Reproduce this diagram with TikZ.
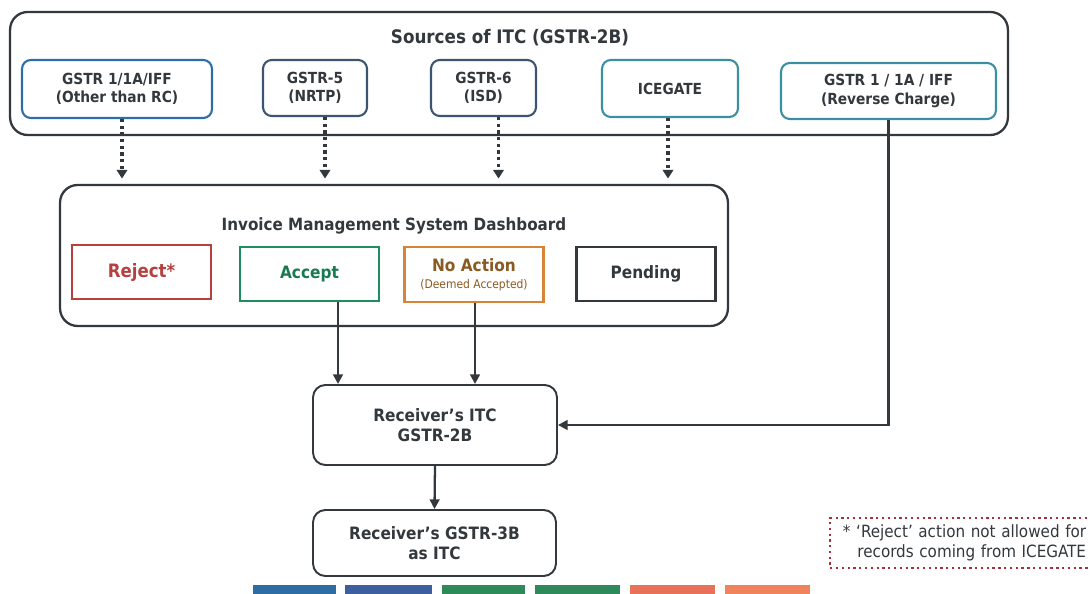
\documentclass[tikz,border=0pt]{standalone}
\usepackage{fontspec}
\setmainfont{DejaVu Sans Condensed}
\usetikzlibrary{arrows.meta,calc}
\definecolor{ink}{HTML}{33383D}
\definecolor{srcblue}{HTML}{2B6FA8}
\definecolor{srcslate}{HTML}{3B5570}
\definecolor{srcteal}{HTML}{3A90A0}
\definecolor{rejred}{HTML}{B5403F}
\definecolor{accgreen}{HTML}{1E8E5E}
\definecolor{noorange}{HTML}{D98338}
\definecolor{nobrown}{HTML}{8A5A22}
\definecolor{notered}{HTML}{A8303A}
\tikzset{
  frame/.style={draw=ink,line width=1.3pt,rounded corners=10pt},
  srcbox/.style={draw=#1,line width=1.2pt,rounded corners=5pt,align=center,
    text=ink,font=\fontsize{8.7}{10.3}\selectfont\bfseries,inner sep=0pt},
  actbox/.style={draw=#1,line width=1.3pt,align=center,inner sep=0pt,
    minimum width=2.78cm,minimum height=1.08cm,font=\fontsize{9.7}{10.5}\selectfont\bfseries},
  itcbox/.style={draw=ink,line width=1.1pt,rounded corners=7pt,align=center,
    text=ink,font=\fontsize{9.7}{11.5}\selectfont\bfseries,inner sep=0pt},
  feed/.style={draw=ink,line width=1.8pt,dotted,-{Triangle[width=6pt,length=5pt]},shorten >=3pt},
  flow/.style={draw=ink,line width=1.3pt,-{Triangle[width=5.5pt,length=5.5pt]}},
}
\begin{document}
\begin{tikzpicture}[x=0.02cm,y=-0.02cm]
\useasboundingbox (0,0) rectangle (1090,594);

% sources
\node[frame,minimum width=19.96cm,minimum height=2.46cm] (srcs) at (509,73.5) {};
\node[text=ink,font=\fontsize{10.6}{12}\selectfont\bfseries] (srcTitle) at (510,38) {Sources of ITC (GSTR-2B)};
\node[srcbox=srcblue,minimum width=3.8cm,minimum height=1.16cm] (gA) at (117,89) {GSTR 1/1A/IFF\\(Other than RC)};
\node[srcbox=srcslate,minimum width=2.08cm,minimum height=1.12cm] (gB) at (315,88) {GSTR-5\\(NRTP)};
\node[srcbox=srcslate,minimum width=2.1cm,minimum height=1.12cm] (gC) at (483.5,88) {GSTR-6\\(ISD)};
\node[srcbox=srcteal,minimum width=2.72cm,minimum height=1.14cm] (gD) at (670,88.5) {ICEGATE};
\node[srcbox=srcteal,minimum width=4.3cm,minimum height=1.12cm] (gE) at (888.5,91) {GSTR 1 / 1A / IFF\\(Reverse Charge)};

% dashboard
\node[frame,minimum width=13.36cm,minimum height=2.82cm] (ims) at (394,255.5) {};
\node[text=ink,font=\fontsize{9.6}{11}\selectfont\bfseries] (imsTitle) at (394,226) {Invoice Management System Dashboard};
\node[actbox=rejred,text=rejred,font=\fontsize{10.5}{11}\selectfont\bfseries] (rej) at (141.5,272) {Reject*};
\node[actbox=accgreen,text=accgreen!85!black] (acc) at (309.5,274) {Accept};
\node[actbox=noorange,text=nobrown,minimum height=1.1cm] (noact) at (474,274.5)
  {No Action\\[-1pt]{\fontsize{6.8}{7.5}\selectfont\mdseries(Deemed Accepted)}};
\node[actbox=ink,text=ink] (pend) at (646,274) {Pending};

% receiver side
\node[itcbox,minimum width=4.88cm,minimum height=1.6cm] (itc) at (435,425) {Receiver's ITC\\GSTR-2B};
\node[itcbox,minimum width=4.86cm,minimum height=1.32cm] (g3b) at (434.5,543) {Receiver's GSTR-3B\\as ITC};
\node[draw=notered,line width=1.3pt,dotted,minimum height=1cm,
  text width=4.98cm,inner xsep=0.14cm,inner ysep=0pt,align=right,text=ink,
  font=\fontsize{9.6}{11}\selectfont,anchor=west] (note) at (829,543)
  {* `Reject' action not allowed for\\records coming from ICEGATE};

% connectors
\foreach \s/\dx in {gA/5,gB/10,gC/15,gD/-2}{
  \coordinate (\s-out) at ($(\s.south)+(\dx,0)$);
  \draw[feed] (\s-out) -- (\s-out |- ims.north);
}
\coordinate (acc-out) at ($(acc.south)+(28.5,0)$);
\coordinate (noact-out) at ($(noact.south)+(1,0)$);
\draw[flow] (acc-out) -- (acc-out |- itc.north);
\draw[flow] (noact-out) -- (noact-out |- itc.north);
\draw[flow] (gE.south) -- (gE.south |- itc.east) -- (itc.east);
\draw[flow] (itc.south) -- (g3b.north);

% colour strip at the foot
\foreach \xa/\xb/\c in {253/336/2E6DA4,345/432/3D5F9F,442/525/2F8A5A,535/620/2E8A5A,630/715/E8715A,725/810/F0825C}{
  \definecolor{strip}{HTML}{\c}
  \fill[strip] (\xa,585) rectangle (\xb,600);
}
\end{tikzpicture}
\end{document}
